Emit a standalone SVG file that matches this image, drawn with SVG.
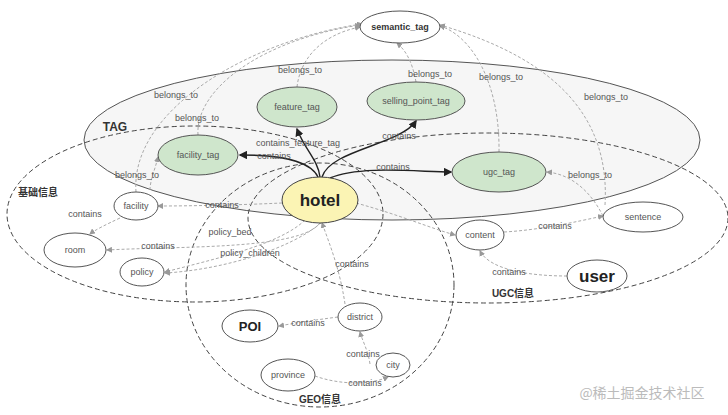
<svg xmlns="http://www.w3.org/2000/svg" width="728" height="415" viewBox="0 0 728 415">
<style>
text{font-family:"Liberation Sans",Arial,sans-serif;fill:#555;font-size:9px;text-anchor:middle}
.n{fill:#fff;stroke:#555;stroke-width:1}
.g{fill:#cfe6cc;stroke:#555;stroke-width:1}
.grp{fill:none;stroke:#444;stroke-width:1;stroke-dasharray:5,3}
.d{fill:none;stroke:#aaa;stroke-width:1;stroke-dasharray:3,2;marker-end:url(#ag)}
.s{fill:none;stroke:#222;stroke-width:1.4;marker-end:url(#ab)}
.b{font-weight:bold;fill:#333}
</style>
<defs>
<marker id="ag" markerWidth="6" markerHeight="6" refX="5" refY="3" orient="auto"><path d="M0,0L6,3L0,6z" fill="#999"/></marker>
<marker id="ab" markerWidth="6" markerHeight="6" refX="5" refY="3" orient="auto"><path d="M0,0L6,3L0,6z" fill="#222"/></marker>
</defs>
<rect width="728" height="415" fill="#fff"/>
<g id="groups">
<ellipse cx="392" cy="140" rx="308" ry="80" fill="#f6f6f6" stroke="#555"/>
<ellipse class="grp" cx="195" cy="214" rx="188" ry="88"/>
<ellipse class="grp" cx="488" cy="218" rx="240" ry="85"/>
<ellipse class="grp" cx="320" cy="285" rx="134" ry="122"/>
<text class="b" x="115" y="131" style="font-size:12px">TAG</text>
<text class="b" x="38" y="196" style="font-size:10px;font-family:'Noto Sans CJK SC',sans-serif">基础信息</text>
<text class="b" x="513" y="297" style="font-size:10px;font-family:'Liberation Sans','Noto Sans CJK SC',sans-serif">UGC信息</text>
<text class="b" x="320" y="403" style="font-size:10px;font-family:'Liberation Sans','Noto Sans CJK SC',sans-serif">GEO信息</text>
</g>
<g id="connectors">
<path class="s" d="M320,177C318,160 305,150 297,129"/>
<path class="s" d="M322,177C330,150 400,145 416,121"/>
<path class="s" d="M318,177C310,160 280,155 240,155"/>
<path class="s" d="M330,178C360,165 420,172 451,172"/>
<path class="d" d="M297,87C300,60 320,35 360,27"/>
<path class="d" d="M416,82C412,60 405,50 397,43"/>
<path class="d" d="M198,135C195,90 260,40 360,25"/>
<path class="d" d="M499,152C500,80 470,35 440,26"/>
<path class="d" d="M136,192C130,110 250,40 362,24"/>
<path class="d" d="M605,205C610,120 560,60 440,25"/>
<path class="d" d="M603,216C590,190 570,174 547,172"/>
<path class="d" d="M150,190C150,180 155,170 158,157"/>
<path class="d" d="M282,203C240,205 190,206 158,206"/>
<path class="d" d="M120,218C105,225 95,230 90,234"/>
<path class="d" d="M320,223C300,250 180,246 107,250"/>
<path class="d" d="M305,220C280,245 210,260 165,272"/>
<path class="d" d="M322,222C290,250 220,270 165,273"/>
<path class="d" d="M356,203C400,215 430,228 455,235"/>
<path class="d" d="M504,232C540,230 575,222 603,216"/>
<path class="d" d="M567,276C530,276 490,270 480,251"/>
<path class="d" d="M345,304C340,270 330,245 322,223"/>
<path class="d" d="M338,317C315,320 295,323 279,326"/>
<path class="d" d="M370,364C368,350 362,340 360,332"/>
<path class="d" d="M315,376C340,385 370,385 388,377"/>
<text x="430" y="77">belongs_to</text>
<text x="300" y="73">belongs_to</text>
<text x="501" y="80">belongs_to</text>
<text x="176" y="98">belongs_to</text>
<text x="197" y="121">belongs_to</text>
<text x="606" y="100">belongs_to</text>
<text x="590" y="178">belongs_to</text>
<text x="137" y="178">belongs_to</text>
<text x="298" y="146">contains_feature_tag</text>
<text x="274" y="159">contains</text>
<text x="399" y="139">contains</text>
<text x="393" y="170">contains</text>
<text x="222" y="208">contains</text>
<text x="85" y="217">contains</text>
<text x="158" y="249">contains</text>
<text x="230" y="235">policy_bed</text>
<text x="250" y="256">policy_children</text>
<text x="555" y="229">contains</text>
<text x="509" y="275">contains</text>
<text x="352" y="267">contains</text>
<text x="308" y="326">contains</text>
<text x="363" y="357">contains</text>
<text x="365" y="386">contains</text>
</g>
<g id="semantic_tag"><ellipse class="n" cx="400" cy="27" rx="40" ry="16"/><text x="400" y="30" class="b">semantic_tag</text></g>
<g id="feature_tag"><ellipse class="g" cx="297" cy="107" rx="40" ry="20"/><text x="297" y="110">feature_tag</text></g>
<g id="selling_point_tag"><ellipse class="g" cx="416" cy="101" rx="49" ry="19"/><text x="416" y="104">selling_point_tag</text></g>
<g id="facility_tag"><ellipse class="g" cx="198" cy="155" rx="40" ry="20"/><text x="198" y="158">facility_tag</text></g>
<g id="ugc_tag"><ellipse class="g" cx="499" cy="172" rx="47" ry="20"/><text x="499" y="175">ugc_tag</text></g>
<g id="hotel"><ellipse cx="320" cy="200" rx="38" ry="23" fill="#fbf4b4" stroke="#444"/><text x="320" y="206" class="b" style="font-size:17px;fill:#222">hotel</text></g>
<g id="facility"><ellipse class="n" cx="136" cy="206" rx="22" ry="14"/><text x="136" y="209">facility</text></g>
<g id="room"><ellipse class="n" cx="75" cy="250" rx="31" ry="17"/><text x="75" y="253">room</text></g>
<g id="policy"><ellipse class="n" cx="142" cy="272" rx="22" ry="14"/><text x="142" y="275">policy</text></g>
<g id="content"><ellipse class="n" cx="480" cy="235" rx="24" ry="15"/><text x="480" y="238">content</text></g>
<g id="sentence"><ellipse class="n" cx="643" cy="217" rx="40" ry="15"/><text x="643" y="220">sentence</text></g>
<g id="user"><ellipse class="n" cx="597" cy="276" rx="30" ry="16"/><text x="597" y="282" class="b" style="font-size:17px;fill:#222">user</text></g>
<g id="POI"><ellipse class="n" cx="250" cy="326" rx="28" ry="16"/><text x="250" y="331" class="b" style="font-size:13px;fill:#222">POI</text></g>
<g id="district"><ellipse class="n" cx="360" cy="317" rx="22" ry="14"/><text x="360" y="320">district</text></g>
<g id="province"><ellipse class="n" cx="288" cy="375" rx="27" ry="16"/><text x="288" y="378">province</text></g>
<g id="city"><ellipse class="n" cx="393" cy="365" rx="17" ry="12"/><text x="393" y="368">city</text></g>
<text x="642" y="398" style="font-size:14px;fill:#bbb;font-family:'Noto Sans CJK SC',sans-serif">@稀土掘金技术社区</text>
</svg>
